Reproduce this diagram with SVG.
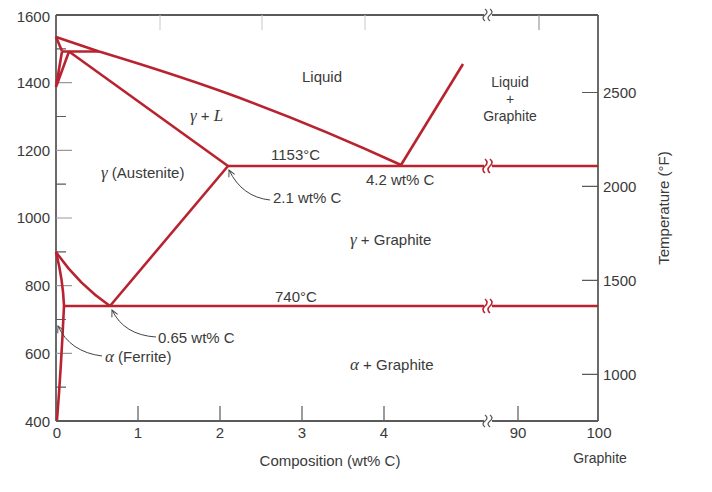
<svg xmlns="http://www.w3.org/2000/svg" width="712" height="492" viewBox="0 0 712 492">
<defs>
<marker id="arr" viewBox="0 0 10 10" refX="9" refY="5" markerWidth="8" markerHeight="8" orient="auto" markerUnits="userSpaceOnUse">
<path d="M1,1 L9,5 L1,9" fill="none" stroke="#444" stroke-width="1.2"/>
</marker>
</defs>
<style>
.ax{stroke:#5a5a5a;stroke-width:1.8;fill:none}
.tk{stroke:#5a5a5a;stroke-width:1.2}
.tkl{stroke:#9a9a9a;stroke-width:1.2}
.tkf{stroke:#c8c8c8;stroke-width:1}
.ph{stroke:#b8232f;stroke-width:2.6;fill:none;stroke-linejoin:round}
.brk{stroke:#b8232f;stroke-width:1.6;fill:none}
.brka{stroke:#5a5a5a;stroke-width:1.3;fill:none}
.ld{stroke:#444;stroke-width:1;fill:none}
text{font-family:"Liberation Sans","Noto Sans",Arial,sans-serif;fill:#3a3a3a;font-size:15px}
.g{font-family:"Liberation Serif","Times New Roman",serif;font-style:italic;font-size:17px}
.sm{font-size:14px}
</style>

<g id="axes">
<path class="ax" d="M56,15 V421"/>
<path class="ax" d="M598,15 V421"/>
<path class="ax" d="M56,15 H484 M492,15 H598"/>
<path class="ax" d="M56,421 H484 M492,421 H598" style="stroke-width:2.2"/>
<path class="brka" d="M485,9 q4,3 0,6 q-4,3 0,6 M490,9 q4,3 0,6 q-4,3 0,6"/>
<path class="brka" d="M485,415 q4,3 0,6 q-4,3 0,6 M490,415 q4,3 0,6 q-4,3 0,6"/>
<path class="tk" d="M56,48.8 H66 M56,116.5 H66 M56,184.2 H66 M56,251.8 H66 M56,319.5 H66 M56,387.2 H66"/>
<path class="tkl" d="M56,82.7 H72 M56,150.3 H72 M56,218 H72 M56,285.7 H72 M56,353.3 H72"/>
<path class="tk" d="M582,92.5 H598 M582,186.4 H598 M582,280.4 H598 M582,374.3 H598"/>
<path class="tk" d="M138,406 V421 M220,406 V421 M302,406 V421 M384,406 V421 M518,406 V421"/>
<path class="tkf" d="M160,15 V30 M262,15 V30 M365,15 V30"/>
<path class="tkl" d="M539,15 V30"/>
</g>

<g id="axis-labels">
<text x="50" y="22" text-anchor="end">1600</text>
<text x="50" y="88" text-anchor="end">1400</text>
<text x="50" y="156" text-anchor="end">1200</text>
<text x="50" y="223" text-anchor="end">1000</text>
<text x="50" y="291" text-anchor="end">800</text>
<text x="50" y="359" text-anchor="end">600</text>
<text x="50" y="427" text-anchor="end">400</text>
<text x="603" y="98">2500</text>
<text x="603" y="192">2000</text>
<text x="603" y="286">1500</text>
<text x="603" y="380">1000</text>
<text x="57" y="438" text-anchor="middle">0</text>
<text x="138" y="438" text-anchor="middle">1</text>
<text x="220" y="438" text-anchor="middle">2</text>
<text x="302" y="438" text-anchor="middle">3</text>
<text x="384" y="438" text-anchor="middle">4</text>
<text x="518" y="438" text-anchor="middle">90</text>
<text x="599" y="438" text-anchor="middle">100</text>
<text x="330" y="466" text-anchor="middle">Composition (wt% C)</text>
<text x="600" y="463" text-anchor="middle" class="sm">Graphite</text>
<text transform="translate(669,208) rotate(-90)" text-anchor="middle">Temperature (°F)</text>
</g>

<g id="connectors">
<path id="liquidus-left" class="ph" d="M56,37 L99,51.5 C160,70 260,100 401,165"/>
<path id="delta-solidus" class="ph" d="M56,37 L62,51"/>
<path id="peritectic" class="ph" d="M62,51.5 H99"/>
<path id="delta-lower" class="ph" d="M56,87 L62,51.5 M56,87 L69,51.5"/>
<path id="gamma-solidus" class="ph" d="M69,51.5 L228,166"/>
<path id="eutectic" class="ph" d="M228,166 H484 M492,166 H598"/>
<path class="brk" d="M485,159 q4,3.5 0,7 q-4,3.5 0,7 M490,159 q4,3.5 0,7 q-4,3.5 0,7"/>
<path id="graphite-liquidus" class="ph" d="M401,165 L463,64"/>
<path id="acm" class="ph" d="M110,306 L228,166"/>
<path id="a3" class="ph" d="M56,252 Q78,284 110,306"/>
<path id="eutectoid" class="ph" d="M64,306 H484 M492,306 H598"/>
<path class="brk" d="M485,299 q4,3.5 0,7 q-4,3.5 0,7 M490,299 q4,3.5 0,7 q-4,3.5 0,7"/>
<path id="alpha-upper" class="ph" d="M56,252 Q63,280 64,306"/>
<path id="alpha-solvus" class="ph" d="M64,306 Q61,370 57,420"/>
<path class="ld" d="M270,200 Q242,197 229,170" marker-end="url(#arr)"/>
<path class="ld" d="M156,337 Q124,335 112,310" marker-end="url(#arr)"/>
<path class="ld" d="M102,356 Q70,352 58,326" marker-end="url(#arr)"/>
</g>

<g id="label-liquid"><text x="322" y="82" text-anchor="middle">Liquid</text></g>
<g id="label-liquid-graphite">
<text x="510" y="87" text-anchor="middle" class="sm">Liquid</text>
<text x="510" y="104" text-anchor="middle" class="sm">+</text>
<text x="510" y="121" text-anchor="middle" class="sm">Graphite</text>
</g>
<g id="label-gamma-L"><text x="190" y="121"><tspan class="g">γ</tspan> + <tspan class="g">L</tspan></text></g>
<g id="label-1153"><text x="271" y="160">1153°C</text></g>
<g id="label-42"><text x="366" y="185">4.2 wt% C</text></g>
<g id="label-21"><text x="273" y="203">2.1 wt% C</text></g>
<g id="label-austenite"><text x="101" y="178"><tspan class="g">γ</tspan> (Austenite)</text></g>
<g id="label-gamma-graphite"><text x="350" y="245"><tspan class="g">γ</tspan> + Graphite</text></g>
<g id="label-740"><text x="275" y="302">740°C</text></g>
<g id="label-065"><text x="158" y="343">0.65 wt% C</text></g>
<g id="label-ferrite"><text x="105" y="362"><tspan class="g">α</tspan> (Ferrite)</text></g>
<g id="label-alpha-graphite"><text x="350" y="370"><tspan class="g">α</tspan> + Graphite</text></g>
</svg>
